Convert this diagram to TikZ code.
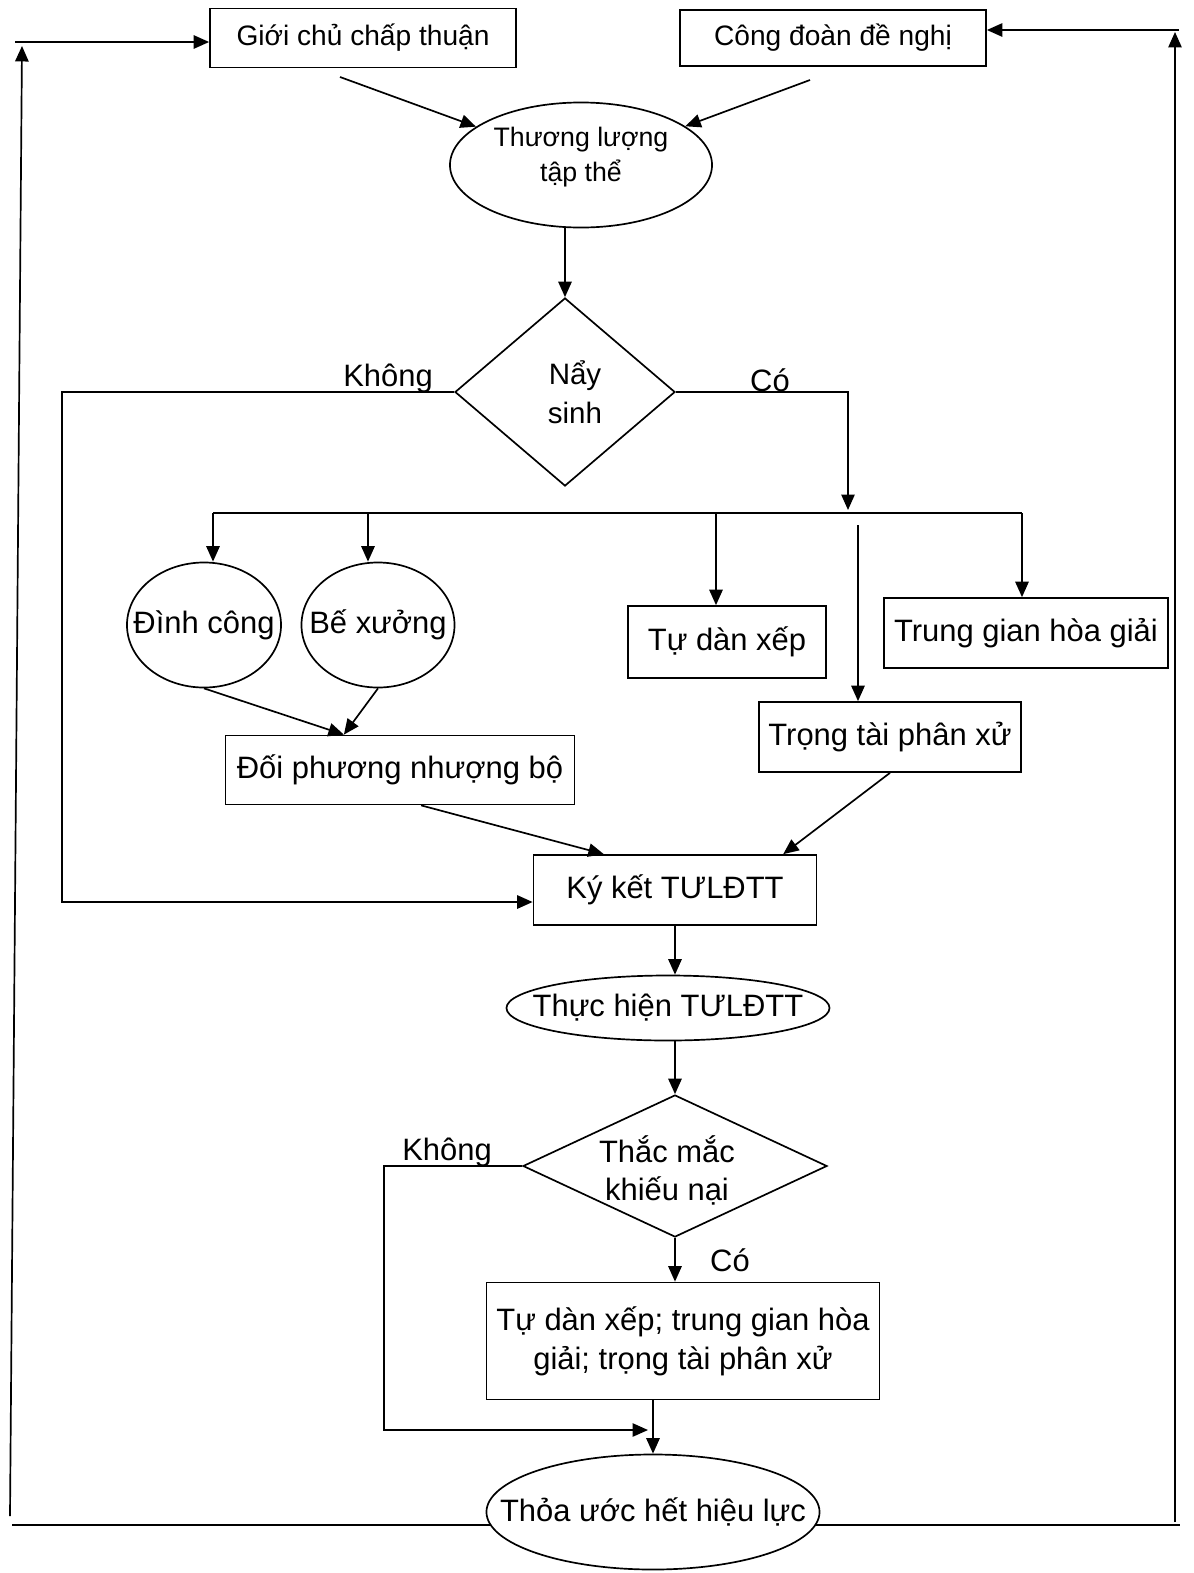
\documentclass[tikz,border=0pt]{standalone}
\usepackage{fontspec}
\setmainfont{Liberation Sans}
\usepackage{tikz}
\usetikzlibrary{shapes.geometric, arrows.meta, positioning, calc}
\tikzstyle{box} = [rectangle, draw, line width=1.2pt, inner sep=2pt, text centered, font=\fontsize{22}{28}\selectfont]
\tikzstyle{oval} = [ellipse, draw, line width=1.2pt, inner sep=0pt]
\tikzstyle{decision} = [diamond, draw, line width=1.2pt, inner sep=0pt]
\tikzstyle{lbl} = [inner sep=0pt, font=\fontsize{22}{26}\selectfont]
\tikzstyle{conn} = [line width=1.2pt]
\tikzstyle{arrow} = [line width=1.2pt, -{Triangle[length=11pt, width=9.5pt]}]

\begin{document}
\begin{tikzpicture}[x=0.025cm, y=-0.025cm, every label/.style={inner sep=0pt, align=center, font=\fontsize{22}{27}\selectfont}]
    \useasboundingbox (0,0) rectangle (1194,1573);

    % Top
    \node[box, minimum width=7.65cm, minimum height=1.475cm, font=\fontsize{20}{24}\selectfont] (gioichu) at (363,38) {Giới chủ chấp thuận};
    \node[box, minimum width=7.65cm, minimum height=1.4cm, font=\fontsize{20}{24}\selectfont] (congdoan) at (833,38) {Công đoàn đề nghị};
    \node[oval, minimum width=6.55cm, minimum height=3.125cm, label={[font=\fontsize{19}{25}\selectfont, yshift=0.2cm]center:{Thương lượng\\tập thể}}] (thuongluong) at (581,165) {};
    \node[decision, minimum width=5.5cm, minimum height=4.7cm, label={[xshift=0.25cm, font=\fontsize{21}{28}\selectfont]center:{Nẩy\\sinh}}] (naysinh) at (565,392) {};
    \node[lbl] (khong1) at (388,378) {Không};
    \node[lbl] (co1) at (770,380) {Có};

    % Choices
    \node[oval, minimum width=3.85cm, minimum height=3.125cm, label=center:Đình công] (dinhcong) at (204,625) {};
    \node[oval, minimum width=3.825cm, minimum height=3.125cm, label=center:Bế xưởng] (bexuong) at (378,625) {};
    \node[box, minimum width=4.95cm, minimum height=1.8cm] (tudanxep) at (727,642) {Tự dàn xếp};
    \node[box, minimum width=7.1cm, minimum height=1.75cm] (trunggian) at (1026,633) {Trung gian hòa giải};
    \node[box, minimum width=6.55cm, minimum height=1.75cm] (trongtai) at (890,737) {Trọng tài phân xử};
    \node[box, minimum width=8.725cm, minimum height=1.725cm] (doiphuong) at (400,770) {Đối phương nhượng bộ};

    % Lower part
    \node[box, minimum width=7.075cm, minimum height=1.75cm] (kyket) at (675,890) {Ký kết TƯLĐTT};
    \node[oval, minimum width=8.075cm, minimum height=1.625cm, label=center:Thực hiện TƯLĐTT] (thuchien) at (668,1008) {};
    \node[decision, minimum width=7.6cm, minimum height=3.55cm, label={[xshift=-0.2cm, yshift=-0.1cm]center:{Thắc mắc\\khiếu nại}}] (thacmac) at (675,1166) {};
    \node[lbl] (khong2) at (447,1152) {Không};
    \node[lbl] (co2) at (730,1260) {Có};
    \node[box, minimum width=9.825cm, minimum height=2.925cm, align=center] (giaiquyet) at (683,1341) {Tự dàn xếp; trung gian hòa\\giải; trọng tài phân xử};
    \node[oval, minimum width=8.325cm, minimum height=2.875cm, label=center:Thỏa ước hết hiệu lực] (thoauoc) at (653,1512) {};

    % Free ends and bends
    \coordinate (lbot) at (10,1516);
    \coordinate (ltop) at (22,46);
    \coordinate (lleft) at (15,42);
    \coordinate (rbot) at (1175,1522);
    \coordinate (rtop) at (1175,32);
    \coordinate (rright) at (1179,30);
    \coordinate (bl) at (12,1525);
    \coordinate (br) at (1180,1525);
    \coordinate (g1) at (340,77);
    \coordinate (c1) at (810,80);
    \coordinate (kbend) at (62,902);
    \coordinate (cobend) at (848,510);
    \coordinate (fork1) at (213,513);
    \coordinate (fork2) at (368,513);
    \coordinate (fork3) at (716,513);
    \coordinate (fork4) at (1022,513);
    \coordinate (tt1) at (858,525);
    \coordinate (kbend2) at (384,1430);
    \coordinate (kend2) at (648,1430);

    % Feedback loop
    \draw[arrow] (lbot) -- (ltop);
    \draw[arrow] (lleft) -- (gioichu.west |- lleft);
    \draw[arrow] (rbot) -- (rtop);
    \draw[arrow] (rright) -- (congdoan.east |- rright);
    \draw[conn] (bl) -- (bl -| thoauoc.185);
    \draw[conn] (thoauoc.355 |- br) -- (br);

    % Negotiation
    \draw[arrow] (g1) -- (thuongluong);
    \draw[arrow] (c1) -- (thuongluong);
    \draw[arrow] (naysinh.north |- thuongluong.south) -- (naysinh.north);
    \draw[arrow] (naysinh.west) -| (kbend) -- (kbend -| kyket.west);
    \draw[arrow] (naysinh.east) -| (cobend);

    % Fork
    \draw[conn] (fork1) -- (fork4);
    \draw[arrow] (fork1) -- (fork1 |- dinhcong.north);
    \draw[arrow] (fork2) -- (fork2 |- bexuong.north);
    \draw[arrow] (fork3) -- (fork3 |- tudanxep.north);
    \draw[arrow] (fork4) -- (fork4 |- trunggian.north);
    \draw[arrow] (tt1) -- (tt1 |- trongtai.north);
    \draw[arrow] (dinhcong.south) -- ($(doiphuong.north west)!0.34!(doiphuong.north east)$);
    \draw[arrow] (bexuong.south) -- ($(doiphuong.north west)!0.34!(doiphuong.north east)$);
    \draw[arrow] ($(doiphuong.south west)!0.56!(doiphuong.south east)$) -- ($(kyket.north west)!0.25!(kyket.north east)$);
    \draw[arrow] (trongtai.south) -- ($(kyket.north west)!0.88!(kyket.north east)$);

    % Execution
    \draw[arrow] (kyket.south) -- (kyket.south |- thuchien.north);
    \draw[arrow] (thacmac.north |- thuchien.south) -- (thacmac.north);
    \draw[arrow] (thacmac.south) -- (thacmac.south |- giaiquyet.north);
    \draw[arrow] (thacmac.west) -| (kbend2) -- (kend2);
    \draw[arrow] (giaiquyet.south -| thoauoc.north) -- (thoauoc.north);
\end{tikzpicture}
\end{document}
